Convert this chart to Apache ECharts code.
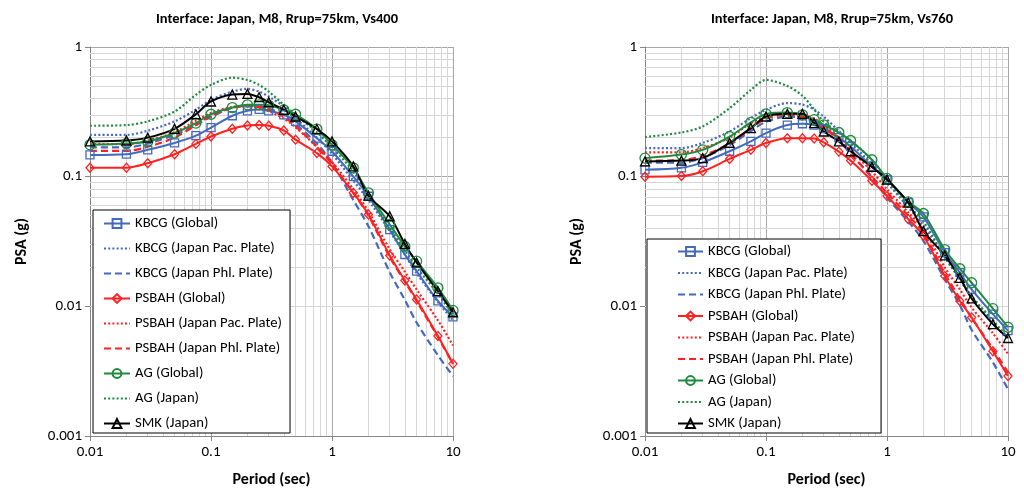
<!DOCTYPE html>
<html><head><meta charset="utf-8">
<script src="https://cdn.jsdelivr.net/npm/echarts@6/dist/echarts.min.js"></script>
<style>html,body{margin:0;padding:0;background:#fff}#c{width:1024px;height:494px}</style>
</head><body><div id="c"></div>
<script>
// ---- data ----
const titles = ['Interface: Japan, M8, Rrup=75km, Vs400', 'Interface: Japan, M8, Rrup=75km, Vs760'];
const seriesNames = ['KBCG (Global)','KBCG (Japan Pac. Plate)','KBCG (Japan Phl. Plate)','PSBAH (Global)','PSBAH (Japan Pac. Plate)','PSBAH (Japan Phl. Plate)','AG (Global)','AG (Japan)','SMK (Japan)'];
const periods = [0.01,0.02,0.03,0.05,0.075,0.1,0.15,0.2,0.25,0.3,0.4,0.5,0.75,1,1.5,2,3,4,5,7.5,10];
const xTickLabels = ['0.01','0.1','1','10'];
const yTickLabels = ['0.001','0.01','0.1','1'];
const minorX = [0.02,0.03,0.04,0.05,0.06,0.07,0.08,0.09,0.2,0.3,0.4,0.5,0.6,0.7,0.8,0.9,2,3,4,5,6,7,8,9];
const minorY = [0.002,0.003,0.004,0.005,0.006,0.007,0.008,0.009,0.02,0.03,0.04,0.05,0.06,0.07,0.08,0.09,0.2,0.3,0.4,0.5,0.6,0.7,0.8,0.9];

// Vs400
const kbcgGlobal400 = [0.147,0.149,0.161,0.182,0.207,0.239,0.295,0.322,0.33,0.322,0.30,0.267,0.198,0.157,0.10,0.0706,0.039,0.0251,0.0187,0.011,0.0083];
const kbcgPac400    = [0.21,0.21,0.226,0.267,0.328,0.391,0.453,0.475,0.453,0.415,0.347,0.283,0.20,0.15,0.093,0.066,0.038,0.025,0.018,0.0108,0.0078];
const kbcgPhl400    = [0.168,0.168,0.18,0.21,0.25,0.29,0.34,0.355,0.35,0.335,0.30,0.255,0.18,0.128,0.066,0.0415,0.0183,0.0112,0.0075,0.0042,0.0029];
const psbahGlobal400= [0.117,0.117,0.127,0.149,0.179,0.204,0.234,0.248,0.25,0.247,0.227,0.193,0.152,0.12,0.075,0.051,0.0247,0.0158,0.0113,0.0059,0.0036];
const psbahPac400   = [0.178,0.178,0.19,0.22,0.27,0.31,0.345,0.35,0.34,0.32,0.28,0.24,0.17,0.13,0.08,0.054,0.0275,0.0185,0.0135,0.0078,0.005];
const psbahPhl400   = [0.158,0.158,0.17,0.20,0.25,0.295,0.34,0.35,0.345,0.33,0.29,0.245,0.17,0.125,0.075,0.05,0.024,0.0155,0.011,0.0058,0.0036];
const agGlobal400   = [0.176,0.18,0.187,0.217,0.259,0.303,0.341,0.358,0.358,0.355,0.328,0.303,0.233,0.176,0.117,0.075,0.0428,0.029,0.0223,0.0139,0.0093];
const agJapan400    = [0.247,0.25,0.267,0.318,0.428,0.51,0.58,0.557,0.51,0.453,0.358,0.30,0.22,0.168,0.11,0.072,0.04,0.027,0.02,0.0125,0.0086];
const smk400        = [0.187,0.19,0.2,0.234,0.303,0.38,0.43,0.435,0.41,0.375,0.328,0.291,0.233,0.187,0.12,0.0713,0.0495,0.0303,0.0218,0.0131,0.009];

// Vs760
const kbcgGlobal760 = [0.113,0.117,0.129,0.157,0.187,0.217,0.25,0.256,0.25,0.235,0.20,0.171,0.12,0.095,0.063,0.049,0.026,0.0182,0.0135,0.0087,0.0065];
const kbcgPac760    = [0.166,0.166,0.182,0.223,0.283,0.328,0.369,0.36,0.33,0.29,0.225,0.182,0.125,0.09,0.058,0.042,0.024,0.016,0.0118,0.0075,0.0055];
const kbcgPhl760    = [0.128,0.128,0.14,0.175,0.225,0.265,0.29,0.285,0.265,0.24,0.195,0.152,0.098,0.069,0.045,0.032,0.0162,0.0102,0.0066,0.0037,0.0023];
const psbahGlobal760= [0.1,0.101,0.11,0.137,0.161,0.182,0.198,0.198,0.197,0.184,0.156,0.133,0.093,0.071,0.047,0.035,0.0171,0.011,0.0082,0.0045,0.0029];
const psbahPac760   = [0.154,0.154,0.166,0.2,0.259,0.29,0.31,0.3,0.28,0.25,0.2,0.16,0.11,0.08,0.053,0.04,0.02,0.0135,0.0098,0.0062,0.0043];
const psbahPhl760   = [0.133,0.134,0.145,0.18,0.235,0.28,0.3,0.29,0.27,0.24,0.19,0.15,0.1,0.075,0.05,0.037,0.018,0.0115,0.0082,0.0047,0.0031];
const agGlobal760   = [0.139,0.148,0.161,0.204,0.262,0.305,0.312,0.3,0.275,0.251,0.219,0.19,0.135,0.097,0.064,0.052,0.0274,0.0195,0.0152,0.0096,0.0069];
const agJapan760    = [0.202,0.219,0.244,0.337,0.467,0.557,0.5,0.42,0.33,0.265,0.22,0.19,0.135,0.095,0.06,0.045,0.024,0.0165,0.012,0.0078,0.0057];
const smk760        = [0.131,0.133,0.139,0.182,0.237,0.291,0.305,0.305,0.259,0.223,0.187,0.157,0.119,0.095,0.063,0.038,0.0247,0.0166,0.0115,0.0073,0.0057];

const chartData = [
  [kbcgGlobal400,kbcgPac400,kbcgPhl400,psbahGlobal400,psbahPac400,psbahPhl400,agGlobal400,agJapan400,smk400],
  [kbcgGlobal760,kbcgPac760,kbcgPhl760,psbahGlobal760,psbahPac760,psbahPhl760,agGlobal760,agJapan760,smk760]
];

// ---- styles ----
const BLUE = '#4469bd', RED = '#ff2020', GREEN = '#1f8a3e', BLACK = '#000000';
const DOT = [2, 2.2], DASH = [7, 4];
const styles = [
  {c: BLUE,  t: 'solid', s: 'rect', sz: 8},
  {c: BLUE,  t: DOT,  s: 'none'},
  {c: BLUE,  t: DASH, s: 'none'},
  {c: RED,   t: 'solid', s: 'diamond', sz: [8, 9]},
  {c: RED,   t: DOT,  s: 'none'},
  {c: RED,   t: DASH, s: 'none'},
  {c: GREEN, t: 'solid', s: 'circle', sz: 10},
  {c: GREEN, t: DOT,  s: 'none'},
  {c: BLACK, t: 'solid', s: 'triangle', sz: 9}
];
const FONT = 'Carlito, Lato, sans-serif';
const gridLeft = [90, 645];

const option = {
  animation: false,
  backgroundColor: '#fff',
  textStyle: {fontFamily: FONT},
  title: titles.map((t, i) => ({
    text: t, left: gridLeft[i] + 182, top: 7, textAlign: 'center',
    textStyle: {fontFamily: FONT, fontSize: 14.5, fontWeight: 'bold', color: '#000'}
  })),
  grid: gridLeft.map(l => ({left: l, top: 47, width: 363, height: 389, containLabel: false})),
  legend: [
    {left: 93, top: 210, orient: 'vertical', itemWidth: 26, itemHeight: 11, itemGap: 10,
     padding: [6, 8, 2, 10]},
    {left: 647, top: 239, orient: 'vertical', itemWidth: 25, itemHeight: 11, itemGap: 6.5,
     padding: [5, 26, 2, 30]}
  ].map(l => Object.assign(l, {
    data: seriesNames, borderColor: '#000', borderWidth: 1, backgroundColor: '#fff',
    selectedMode: false,
    textStyle: {fontFamily: FONT, fontSize: 14.7, color: '#000'}
  })),
  xAxis: [0, 1].map(i => ({
    type: 'log', logBase: 10, gridIndex: i, min: 0.01, max: 10,
    name: 'Period (sec)', nameLocation: 'middle', nameGap: 36,
    nameTextStyle: {fontFamily: FONT, fontSize: 16, fontWeight: 'bold', color: '#000'},
    axisLine: {show: true, onZero: false, lineStyle: {color: '#868686'}},
    axisTick: {show: true, length: 5, lineStyle: {color: '#868686'}},
    axisLabel: {color: '#000', fontSize: 15, fontFamily: FONT, margin: 9,
      formatter: v => xTickLabels.find(s => Math.abs(parseFloat(s) - v) < 1e-9 * Math.max(1, v)) || ''},
    splitLine: {show: true, lineStyle: {color: '#a6a6a6', width: 1}}
  })),
  yAxis: [0, 1].map(i => ({
    type: 'log', logBase: 10, gridIndex: i, min: 0.001, max: 1,
    name: 'PSA (g)', nameLocation: 'middle', nameGap: 60, nameRotate: 90,
    nameTextStyle: {fontFamily: FONT, fontSize: 16, fontWeight: 'bold', color: '#000'},
    axisLine: {show: true, onZero: false, lineStyle: {color: '#868686'}},
    axisTick: {show: true, length: 5, lineStyle: {color: '#868686'}},
    axisLabel: {color: '#000', fontSize: 15, fontFamily: FONT, margin: 8,
      formatter: v => yTickLabels.find(s => Math.abs(parseFloat(s) - v) < 1e-6 * v) || ''},
    splitLine: {show: true, lineStyle: {color: '#a6a6a6', width: 1}}
  })),
  series: []
};

[0, 1].forEach(i => {
  option.series.push({
    type: 'line', xAxisIndex: i, yAxisIndex: i, data: [], silent: true, z: 1,
    markLine: {
      silent: true, z: 1, symbol: ['none', 'none'], label: {show: false}, animation: false,
      lineStyle: {color: '#d6d6d6', type: 'solid', width: 1},
      emphasis: {disabled: true},
      data: minorX.map(v => ({xAxis: v})).concat(minorY.map(v => ({yAxis: v})))
    }
  });
  chartData[i].forEach((vals, k) => {
    const st = styles[k];
    const hasSym = st.s !== 'none';
    option.series.push({
      name: seriesNames[k], type: 'line', xAxisIndex: i, yAxisIndex: i,
      data: periods.map((p, j) => [p, vals[j]]),
      smooth: 0.3, z: 3,
      symbol: st.s, symbolSize: st.sz || 0, showSymbol: hasSym,
      lineStyle: {color: st.c, width: st.t === 'solid' ? 2 : 2.2, type: st.t},
      itemStyle: hasSym
        ? {color: 'rgba(255,255,255,0)', borderColor: st.c, borderWidth: 1.3}
        : {color: 'rgba(255,255,255,0)', borderColor: 'rgba(255,255,255,0)', borderWidth: 0},
      emphasis: {disabled: true}
    });
  });
});

const chart = echarts.init(document.getElementById('c'));
chart.setOption(option);
</script></body></html>
